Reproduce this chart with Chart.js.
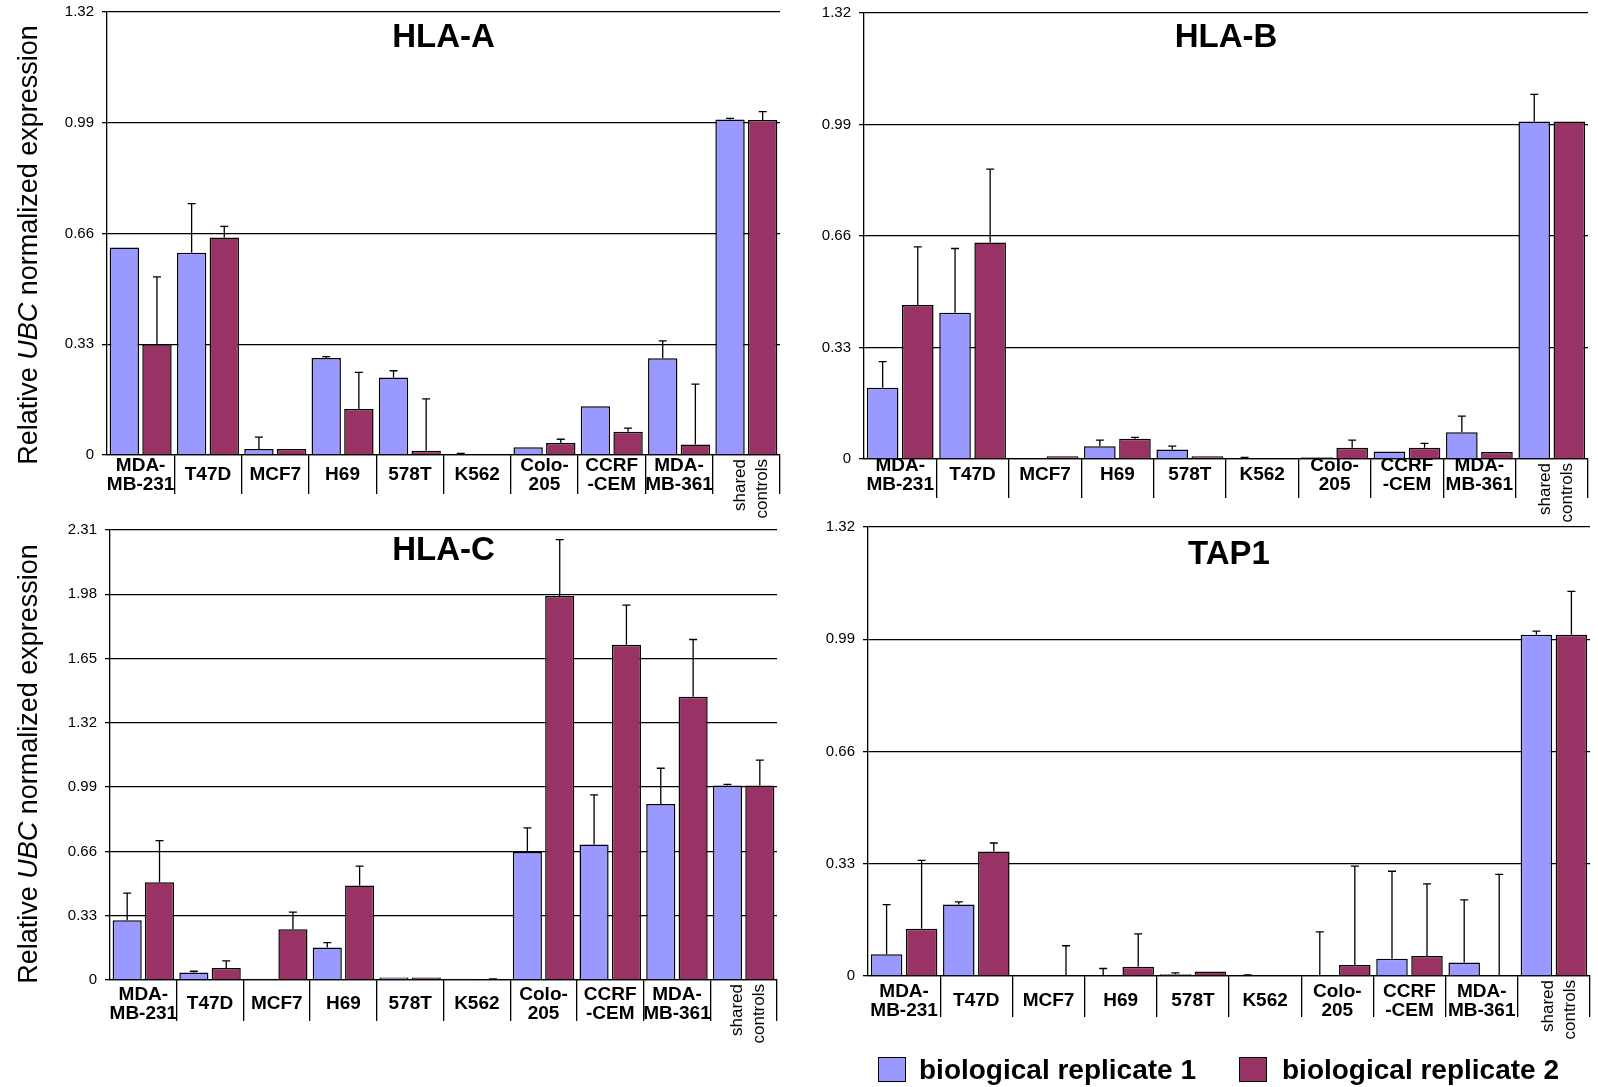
<!DOCTYPE html>
<html>
<head>
<meta charset="utf-8">
<title>HLA / TAP1 expression</title>
<script src="https://cdn.jsdelivr.net/npm/chart.js@4.4.1/dist/chart.umd.min.js"></script>
<style>
  html, body { margin: 0; padding: 0; background: #fff; }
  body { width: 1598px; height: 1087px; position: relative; overflow: hidden; font-family: "Liberation Sans", Arial, sans-serif; }
  canvas { position: absolute; }
  .ytitle { position: absolute; white-space: nowrap; font-size: 27px; color: #000; line-height: 1; transform: translate(-50%, -50%) rotate(-90deg); }
  .lgbox { position: absolute; width: 26px; height: 23px; border: 1px solid #000; }
  .lgtext { position: absolute; font-size: 28px; font-weight: bold; color: #000; line-height: 1; white-space: nowrap; }
</style>
</head>
<body>
<!-- canvases are shifted so that the plot areas land where the reference has them -->
<canvas id="hlaA" width="790" height="540" style="left:0;top:-10px"></canvas>
<canvas id="hlaB" width="808" height="543" style="left:790px;top:-9px"></canvas>
<canvas id="hlaC" width="790" height="579" style="left:0;top:508px"></canvas>
<canvas id="tap1" width="808" height="582" style="left:790px;top:505px"></canvas>

<div class="ytitle" style="left:28px;top:245px">Relative <i>UBC</i> normalized expression</div>
<div class="ytitle" style="left:28px;top:764px">Relative <i>UBC</i> normalized expression</div>

<div class="lgbox" style="left:878px;top:1057px;background:#9999FF"></div>
<div class="lgtext" id="lg1" style="left:919px;top:1056px"></div>
<div class="lgbox" style="left:1239px;top:1057px;background:#993366"></div>
<div class="lgtext" id="lg2" style="left:1282px;top:1056px"></div>

<script>
// cell lines on the x axis (multi-line labels as arrays)
const categories = [["MDA-", "MB-231"], "T47D", "MCF7", "H69", "578T", "K562", ["Colo-", "205"], ["CCRF", "-CEM"], ["MDA-", "MB-361"], "shared controls"];
const seriesNames = ["biological replicate 1", "biological replicate 2"];
const seriesColors = ["#9999FF", "#993366"];

// y tick labels
const ticksStd = [0, 0.33, 0.66, 0.99, 1.32];
const ticksHlaC = [0, 0.33, 0.66, 0.99, 1.32, 1.65, 1.98, 2.31];

// HLA-A
const hlaA_rep1 = [0.618, 0.603, 0.018, 0.289, 0.231, 0.003, 0.023, 0.145, 0.288, 1.000];
const hlaA_rep1_err = [0, 0.146, 0.035, 0.004, 0.020, 0.002, 0, 0, 0.052, 0.003];
const hlaA_rep2 = [0.330, 0.648, 0.018, 0.137, 0.013, 0, 0.036, 0.069, 0.031, 0.998];
const hlaA_rep2_err = [0.201, 0.033, 0, 0.109, 0.154, 0, 0.011, 0.011, 0.180, 0.025];

// HLA-B
const hlaB_rep1 = [0.211, 0.433, 0, 0.038, 0.028, 0.003, 0.005, 0.022, 0.079, 0.999];
const hlaB_rep1_err = [0.077, 0.190, 0, 0.018, 0.010, 0.002, 0, 0, 0.048, 0.080];
const hlaB_rep2 = [0.456, 0.641, 0.008, 0.060, 0.008, 0, 0.033, 0.033, 0.021, 0.999];
const hlaB_rep2_err = [0.172, 0.217, 0, 0.004, 0, 0, 0.023, 0.013, 0, 0];

// HLA-C
const hlaC_rep1 = [0.307, 0.038, 0.006, 0.167, 0.013, 0.006, 0.657, 0.696, 0.903, 0.999];
const hlaC_rep1_err = [0.139, 0.007, 0, 0.025, 0, 0, 0.124, 0.254, 0.184, 0.005];
const hlaC_rep2 = [0.502, 0.062, 0.260, 0.485, 0.013, 0.004, 1.971, 1.721, 1.454, 0.999];
const hlaC_rep2_err = [0.213, 0.036, 0.088, 0.100, 0, 0.002, 0.290, 0.203, 0.294, 0.130];

// TAP1
const tap1_rep1 = [0.064, 0.210, 0, 0, 0.005, 0.002, 0, 0.051, 0.040, 1.003];
const tap1_rep1_err = [0.146, 0.008, 0, 0.022, 0.004, 0.001, 0.130, 0.257, 0.184, 0.011];
const tap1_rep2 = [0.139, 0.366, 0, 0.027, 0.013, 0.003, 0.032, 0.059, 0.003, 1.003];
const tap1_rep2_err = [0.201, 0.025, 0.089, 0.097, 0, 0, 0.291, 0.212, 0.296, 0.128];

const FONT = '"Liberation Sans", Arial, sans-serif';

document.getElementById("lg1").textContent = seriesNames[0];
document.getElementById("lg2").textContent = seriesNames[1];

// upward-only error bars with a small cap
const errorBars = {
    id: "errorBars",
    afterDatasetsDraw(chart){
        const ctx = chart.ctx
        const y = chart.scales.y
        chart.data.datasets.forEach((ds, di) => {
            const meta = chart.getDatasetMeta(di)
            meta.data.forEach((bar, i) => {
                const e = ds.errors[i]
                if(!e) return
                const yBase = y.getPixelForValue(ds.data[i])
                const yTop = y.getPixelForValue(ds.data[i] + e)
                ctx.save()
                ctx.strokeStyle = "#000"
                ctx.lineWidth = 1.3
                ctx.beginPath()
                ctx.moveTo(bar.x, yBase)
                ctx.lineTo(bar.x, yTop)
                ctx.moveTo(bar.x - 4, yTop)
                ctx.lineTo(bar.x + 4, yTop)
                ctx.stroke()
                ctx.restore()
            })
        })
    }
}

// title inside the plot area + the rotated "shared controls" label
const panelDecor = {
    id: "panelDecor",
    afterDraw(chart, args, opts){
        const ctx = chart.ctx
        const a = chart.chartArea
        ctx.save()
        ctx.fillStyle = "#000"
        ctx.font = "bold 33px " + FONT
        ctx.textAlign = "center"
        ctx.textBaseline = "middle"
        ctx.fillText(opts.text, (a.left + a.right) / 2, a.top + opts.titleDy)

        const last = categories.length - 1
        const x = chart.scales.x.getPixelForValue(last)
        const words = categories[last].split(" ")
        ctx.translate(x, a.bottom + 4)
        ctx.rotate(-Math.PI / 2)
        ctx.font = "17px " + FONT
        ctx.textAlign = "right"
        ctx.fillText(words[0], 0, -6)
        ctx.fillText(words[1], 0, 16)
        ctx.restore()
    }
}

function makePanel(id, title, rep1, err1, rep2, err2, yTicks, L){
    const last = categories.length - 1
    return new Chart(document.getElementById(id), {
        type: "bar",
        data: {
            labels: categories,
            datasets: [
                { label: seriesNames[0], data: rep1, errors: err1, backgroundColor: seriesColors[0], borderColor: "#000", borderWidth: 1.5 },
                { label: seriesNames[1], data: rep2, errors: err2, backgroundColor: seriesColors[1], borderColor: "#000", borderWidth: 1.5 }
            ]
        },
        options: {
            responsive: false,
            animation: false,
            categoryPercentage: 0.97,
            barPercentage: 0.9,
            layout: { padding: { top: 22, right: L.padRight, left: 0, bottom: 0 } },
            plugins: {
                legend: { display: false },
                tooltip: { enabled: false },
                panelDecor: { text: title, titleDy: L.titleDy }
            },
            scales: {
                x: {
                    offset: true,
                    grid: {
                        offset: true,
                        drawOnChartArea: false,
                        tickLength: L.sepLength,
                        lineWidth: 1.3,
                        color: c => (c.index === 0 || c.index === categories.length) ? "rgba(0,0,0,0)" : "#000"
                    },
                    border: { color: "#000", width: 1.3 },
                    ticks: {
                        autoSkip: false,
                        maxRotation: 0,
                        minRotation: 0,
                        crossAlign: "center",
                        padding: L.labelOffset - L.sepLength,
                        color: "#000",
                        font: { family: FONT, size: 19, weight: "bold", lineHeight: 0.97 },
                        callback: function(v, i){ return i === last ? "" : this.getLabelForValue(v) }
                    },
                    afterFit: s => { s.height = L.xHeight }
                },
                y: {
                    min: 0,
                    max: yTicks[yTicks.length - 1],
                    afterBuildTicks: s => { s.ticks = yTicks.map(v => ({ value: v })) },
                    grid: { color: "#000", lineWidth: 1.3, tickLength: 5 },
                    border: { color: "#000", width: 1.3 },
                    ticks: {
                        color: "#000",
                        padding: 8,
                        font: { family: FONT, size: 15 },
                        callback: v => v === 0 ? "0" : v.toFixed(2)
                    },
                    afterFit: s => { s.width = L.yWidth }
                }
            }
        },
        plugins: [errorBars, panelDecor]
    })
}

makePanel("hlaA", "HLA-A", hlaA_rep1, hlaA_rep1_err, hlaA_rep2, hlaA_rep2_err, ticksStd,
    { yWidth: 107, xHeight: 75, padRight: 10, sepLength: 39, labelOffset: 11, titleDy: 26 })
makePanel("hlaB", "HLA-B", hlaB_rep1, hlaB_rep1_err, hlaB_rep2, hlaB_rep2_err, ticksStd,
    { yWidth: 74, xHeight: 75, padRight: 10, sepLength: 39, labelOffset: 7, titleDy: 25 })
makePanel("hlaC", "HLA-C", hlaC_rep1, hlaC_rep1_err, hlaC_rep2, hlaC_rep2_err, ticksHlaC,
    { yWidth: 110, xHeight: 107, padRight: 13, sepLength: 41, labelOffset: 15, titleDy: 21 })
makePanel("tap1", "TAP1", tap1_rep1, tap1_rep1_err, tap1_rep2, tap1_rep2_err, ticksStd,
    { yWidth: 78, xHeight: 111, padRight: 8, sepLength: 41, labelOffset: 16, titleDy: 28 })
</script>
</body>
</html>
